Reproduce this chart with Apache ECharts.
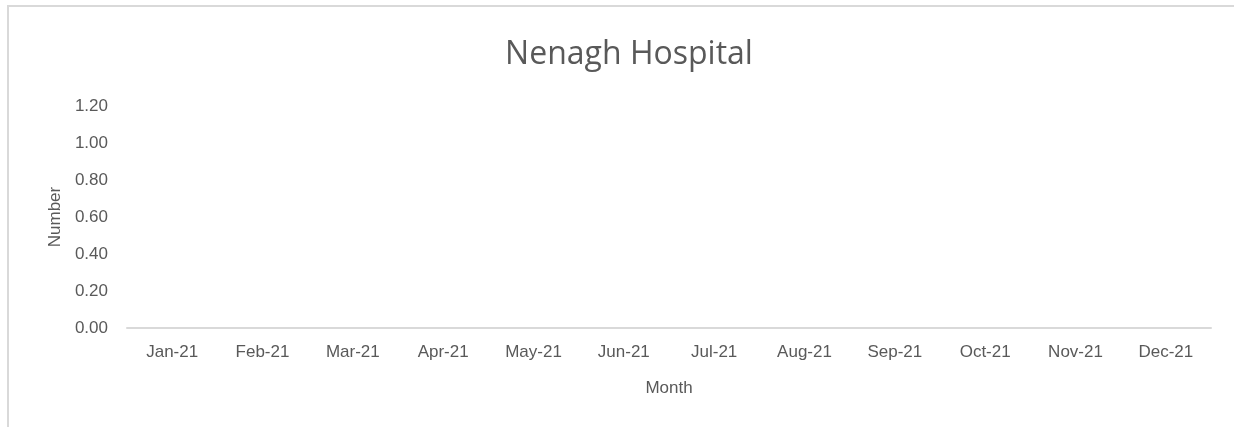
<!DOCTYPE html>
<html>
<head>
<meta charset="utf-8">
<title>Nenagh Hospital</title>
<script src="https://cdn.jsdelivr.net/npm/echarts@6/dist/echarts.min.js"></script>
<style>
  html, body { margin: 0; padding: 0; background: #fff; }
  #mainChart { width: 1234px; height: 427px; }
</style>
</head>
<body>
<div id="mainChart"></div>
<script type="text/javascript">
// data
var months = ['Jan-21', 'Feb-21', 'Mar-21', 'Apr-21', 'May-21', 'Jun-21',
              'Jul-21', 'Aug-21', 'Sep-21', 'Oct-21', 'Nov-21', 'Dec-21'];
// no values plotted in the reference
var counts = [null, null, null, null, null, null, null, null, null, null, null, null];
var yTicks = [0, 0.2, 0.4, 0.6, 0.8, 1.0, 1.2];

var chart = echarts.init(document.getElementById('mainChart'));

var labelFont = 'Liberation Sans';

var option = {
  backgroundColor: '#fff',
  animation: false,
  title: {
    text: 'Nenagh Hospital',
    left: 624,
    top: 34,
    textAlign: 'center',
    textStyle: {
      color: '#595959',
      fontSize: 32,
      fontWeight: 'normal',
      fontFamily: 'Open Sans'
    }
  },
  graphic: [{
    type: 'rect',
    shape: { x: 8, y: 6, width: 1300, height: 500 },
    style: { fill: 'none', stroke: '#d9d9d9', lineWidth: 2 },
    silent: true
  }],
  grid: { left: 127, right: 23, top: 106, bottom: 99 },
  xAxis: {
    type: 'category',
    data: months,
    name: 'Month',
    nameLocation: 'middle',
    nameGap: 52,
    nameTextStyle: { color: '#595959', fontSize: 17, fontFamily: labelFont },
    axisLine: { lineStyle: { color: '#d9d9d9', width: 2 } },
    axisTick: { show: false },
    axisLabel: { color: '#595959', fontSize: 17, fontFamily: labelFont, margin: 16, interval: 0 }
  },
  yAxis: {
    type: 'value',
    min: yTicks[0],
    max: yTicks[yTicks.length - 1],
    interval: 0.2,
    name: 'Number',
    nameLocation: 'middle',
    nameGap: 63,
    nameTextStyle: { color: '#595959', fontSize: 17, fontFamily: labelFont },
    axisLine: { show: false },
    axisTick: { show: false },
    splitLine: { show: false },
    axisLabel: {
      color: '#595959',
      fontSize: 17,
      fontFamily: labelFont,
      margin: 19,
      formatter: function (v) { return v.toFixed(2); }
    }
  },
  series: [{
    name: 'Number',
    type: 'line',
    data: counts,
    showSymbol: false
  }]
};

chart.setOption(option);
</script>
</body>
</html>
